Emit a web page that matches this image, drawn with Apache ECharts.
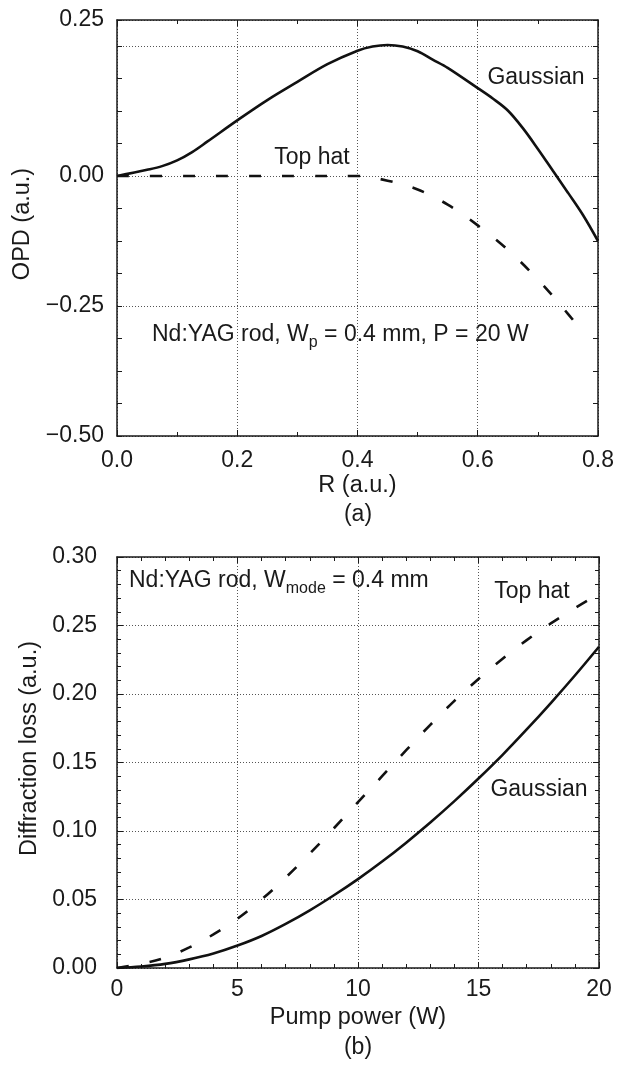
<!DOCTYPE html>
<html>
<head>
<meta charset="utf-8">
<script src="https://cdn.jsdelivr.net/npm/echarts@6/dist/echarts.min.js"></script>
<style>
  html, body { margin: 0; padding: 0; background: #fff; }
  #chart { width: 628px; height: 1068px; }
</style>
</head>
<body>
<div id="chart"></div>
<script>
// (a) OPD vs radius
const rGauss    = [0, 0.05, 0.075, 0.1, 0.125, 0.15, 0.2, 0.25, 0.3, 0.35, 0.4, 0.425, 0.45, 0.475, 0.5, 0.525, 0.55,
                   0.6, 0.625, 0.65, 0.675, 0.7, 0.725, 0.75, 0.775, 0.8];
const opdGauss  = [0, 0.012, 0.019, 0.030, 0.046, 0.066, 0.107, 0.146, 0.181, 0.215, 0.241, 0.249, 0.252, 0.249, 0.240, 0.224, 0.208,
                   0.169, 0.149, 0.126, 0.092, 0.052, 0.010, -0.032, -0.075, -0.125];
const rTopHat   = [0, 0.1, 0.2, 0.3, 0.4, 0.45, 0.5, 0.55, 0.6, 0.65, 0.7, 0.75, 0.78];
const opdTopHat = [0, 0, 0, 0, 0, -0.009, -0.026, -0.055, -0.095, -0.142, -0.199, -0.265, -0.308];
const opdTickValues = [-0.5, -0.25, 0, 0.3];
const opdTickLabels = ['\u22120.50', '\u22120.25', '0.00', '0.25'];

// (b) diffraction loss vs pump power
const pumpGauss  = [0, 1, 2, 3, 4, 5, 6, 7, 8, 9, 10, 11, 12, 13, 14, 15, 16, 17, 18, 19, 20];
const lossGauss  = [0, 0.0011, 0.0030, 0.0063, 0.0106, 0.0164, 0.0234, 0.0322, 0.0421, 0.0531, 0.0649,
                    0.0777, 0.0915, 0.1062, 0.1218, 0.1383, 0.1556, 0.1741, 0.1934, 0.2135, 0.2345];
const pumpTopHat = [0, 1, 2, 3, 4, 5, 6, 7, 8, 9, 10, 11, 12, 13, 14, 15, 16, 17, 18, 19, 19.5];
const lossTopHat = [0, 0.003, 0.0075, 0.015, 0.0245, 0.036, 0.050, 0.066, 0.0835, 0.102, 0.121,
                    0.140, 0.159, 0.1775, 0.195, 0.211, 0.2258, 0.2393, 0.2515, 0.2627, 0.268];

const font = 'Liberation Sans, Arial, Helvetica, sans-serif';
const ink = '#1a1a1a';
const pairs = (xs, ys) => xs.map((x, i) => [x, ys[i]]);

const frame = { show: true, onZero: false, lineStyle: { color: ink, width: 1.5 } };
const tick = { show: true, inside: true, length: 6, lineStyle: { color: ink, width: 1 } };
const grid = { show: true, lineStyle: { color: '#555', width: 1, type: [1, 2] } };
const label = { color: ink, fontSize: 23, fontFamily: font };

function nameStyle(shift) {
  return { color: ink, fontSize: 23.5, fontFamily: font, padding: [0, 0, 0, shift] };
}

function minor(n) {
  return { show: true, splitNumber: n, length: 4, lineStyle: { color: ink, width: 1 } };
}

function lineSeries(xi, yi, data, dashed) {
  return {
    type: 'line', xAxisIndex: xi, yAxisIndex: yi, data: data,
    smooth: 0.35, showSymbol: false, silent: true,
    lineStyle: { color: '#111', width: 2.6, type: dashed ? [12, 21] : 'solid' }
  };
}

function text(x, y, str, align, rich) {
  return {
    type: 'text', x: x, y: y, silent: true,
    style: {
      text: str, fill: ink, fontSize: 23, fontFamily: font,
      align: align || 'center', verticalAlign: 'middle', rich: rich
    }
  };
}

const subRich = { s: { fontSize: 16, fontFamily: font, fill: ink, verticalAlign: 'top', padding: [16, 0, 0, 0] } };

const chart = echarts.init(document.getElementById('chart'));
chart.setOption({
  animation: false,
  backgroundColor: '#fff',
  grid: [
    { left: 117, top: 20, width: 481, height: 416 },
    { left: 117, top: 557, width: 482, height: 411 }
  ],
  xAxis: [
    { gridIndex: 0, type: 'value', min: 0, max: 0.8, interval: 0.2, position: 'bottom',
      axisLine: frame, axisTick: tick, minorTick: minor(2), splitLine: grid,
      axisLabel: Object.assign({ margin: 13, formatter: v => v.toFixed(1) }, label),
      name: 'R (a.u.)', nameLocation: 'middle', nameGap: 38, nameTextStyle: nameStyle(0) },
    { gridIndex: 0, type: 'value', min: 0, max: 0.8, interval: 0.2, position: 'top',
      axisLine: frame, axisTick: tick, minorTick: minor(2), splitLine: { show: false },
      axisLabel: { show: false } },
    { gridIndex: 1, type: 'value', min: 0, max: 20, interval: 5, position: 'bottom',
      axisLine: frame, axisTick: tick, minorTick: minor(5), splitLine: grid,
      axisLabel: Object.assign({ margin: 10, formatter: v => String(v) }, label),
      name: 'Pump power (W)', nameLocation: 'middle', nameGap: 38, nameTextStyle: nameStyle(0) },
    { gridIndex: 1, type: 'value', min: 0, max: 20, interval: 5, position: 'top',
      axisLine: frame, axisTick: tick, minorTick: minor(5), splitLine: { show: false },
      axisLabel: { show: false } }
  ],
  yAxis: [
    { gridIndex: 0, type: 'value', min: -0.5, max: 0.3, interval: 0.0625, position: 'left',
      axisLine: frame, axisTick: Object.assign({}, tick, { length: 5 }), splitLine: { show: false },
      axisLabel: Object.assign({
        margin: 13,
        formatter: v => {
          const k = opdTickValues.findIndex(t => Math.abs(t - v) < 1e-6);
          return k < 0 ? '' : opdTickLabels[k];
        }
      }, label),
      name: 'OPD (a.u.)', nameLocation: 'middle', nameGap: 73, nameTextStyle: nameStyle(8) },
    { gridIndex: 0, type: 'value', min: -0.5, max: 0.3, interval: 0.0625, position: 'right',
      axisLine: frame, axisTick: Object.assign({}, tick, { length: 5 }), splitLine: { show: false },
      axisLabel: { show: false } },
    { gridIndex: 0, type: 'value', min: -0.5, max: 0.3, interval: 0.25, position: 'left',
      axisLine: { show: false }, axisTick: { show: false }, axisLabel: { show: false },
      splitLine: grid },
    { gridIndex: 1, type: 'value', min: 0, max: 0.3, interval: 0.05, position: 'left',
      axisLine: frame, axisTick: tick, minorTick: minor(5), splitLine: grid,
      axisLabel: Object.assign({ margin: 20, formatter: v => v.toFixed(2) }, label),
      name: 'Diffraction loss (a.u.)', nameLocation: 'middle', nameGap: 75, nameTextStyle: nameStyle(28) },
    { gridIndex: 1, type: 'value', min: 0, max: 0.3, interval: 0.05, position: 'right',
      axisLine: frame, axisTick: tick, minorTick: minor(5), splitLine: { show: false },
      axisLabel: { show: false } }
  ],
  series: [
    lineSeries(0, 0, pairs(rGauss, opdGauss), false),
    lineSeries(0, 0, pairs(rTopHat, opdTopHat), true),
    lineSeries(2, 3, pairs(pumpGauss, lossGauss), false),
    lineSeries(2, 3, pairs(pumpTopHat, lossTopHat), true)
  ],
  graphic: [
    text(536, 78, 'Gaussian'),
    text(312, 158, 'Top hat'),
    text(152, 335, 'Nd:YAG rod, W{s|p} = 0.4 mm, P = 20 W', 'left', subRich),
    text(358, 515, '(a)'),
    text(129, 581, 'Nd:YAG rod, W{s|mode} = 0.4 mm', 'left', subRich),
    text(532, 592, 'Top hat'),
    text(539, 790, 'Gaussian'),
    text(358, 1048, '(b)')
  ]
});
</script>
</body>
</html>
